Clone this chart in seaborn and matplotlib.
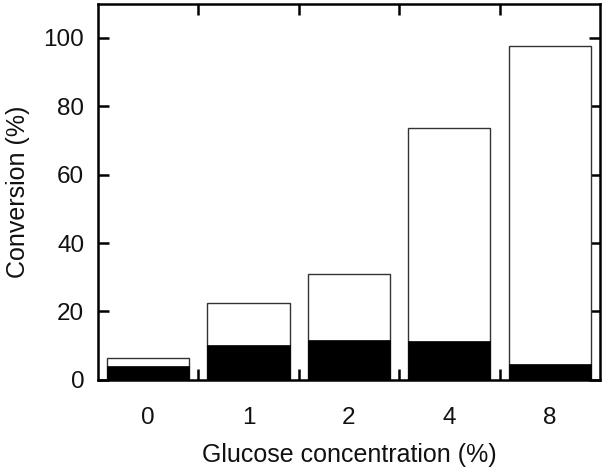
import numpy as np
import pandas as pd
import seaborn as sns
import matplotlib.pyplot as plt
from matplotlib.ticker import FixedLocator

# glucose concentration categories (%)
glucose = ['0', '1', '2', '4', '8']
# total conversion (white bars) and the lower black part
total_conv = [6.3, 22.4, 30.9, 73.7, 97.7]
black_conv = [3.9, 10.3, 11.7, 11.5, 4.6]

df = pd.DataFrame({'glucose': glucose, 'total': total_conv, 'black': black_conv})

sns.set_style('ticks')
plt.rcParams['font.family'] = ['Liberation Sans', 'DejaVu Sans']
plt.rcParams['text.color'] = '#111111'
plt.rcParams['axes.labelcolor'] = '#111111'
plt.rcParams['xtick.labelcolor'] = '#111111'
plt.rcParams['ytick.labelcolor'] = '#111111'

fig = plt.figure(figsize=(6.09, 4.73), dpi=100)
ax = fig.add_axes([0.161, 0.197, 0.824, 0.795])

sns.barplot(data=df, x='glucose', y='total', order=glucose, color='white',
            edgecolor='#333333', linewidth=1.0, width=0.82, ax=ax, saturation=1)
sns.barplot(data=df, x='glucose', y='black', order=glucose, color='black',
            edgecolor='black', linewidth=0.5, width=0.82, ax=ax, saturation=1)

ax.set_xlim(-0.5, 4.5)
ax.set_ylim(0, 110)
ax.set_yticks([0, 20, 40, 60, 80, 100])

# category labels without marks, tick marks between categories
ax.tick_params(axis='x', which='major', length=0, labelsize=17.5, pad=19.5)
ax.xaxis.set_minor_locator(FixedLocator([0.5, 1.5, 2.5, 3.5]))
ax.tick_params(axis='x', which='minor', direction='in', length=8, width=1.8,
               top=True, bottom=True, color='black')
ax.tick_params(axis='y', which='major', direction='in', length=8, width=1.8,
               left=True, right=True, labelsize=17.5, color='black', pad=10)

for s in ax.spines.values():
    s.set_visible(True)
    s.set_linewidth(1.8)
    s.set_color('black')

ax.set_xlabel('Glucose concentration (%)', fontsize=18, labelpad=10)
ax.set_ylabel('Conversion (%)', fontsize=18, labelpad=10)

fig.savefig('out.png', dpi=100)
